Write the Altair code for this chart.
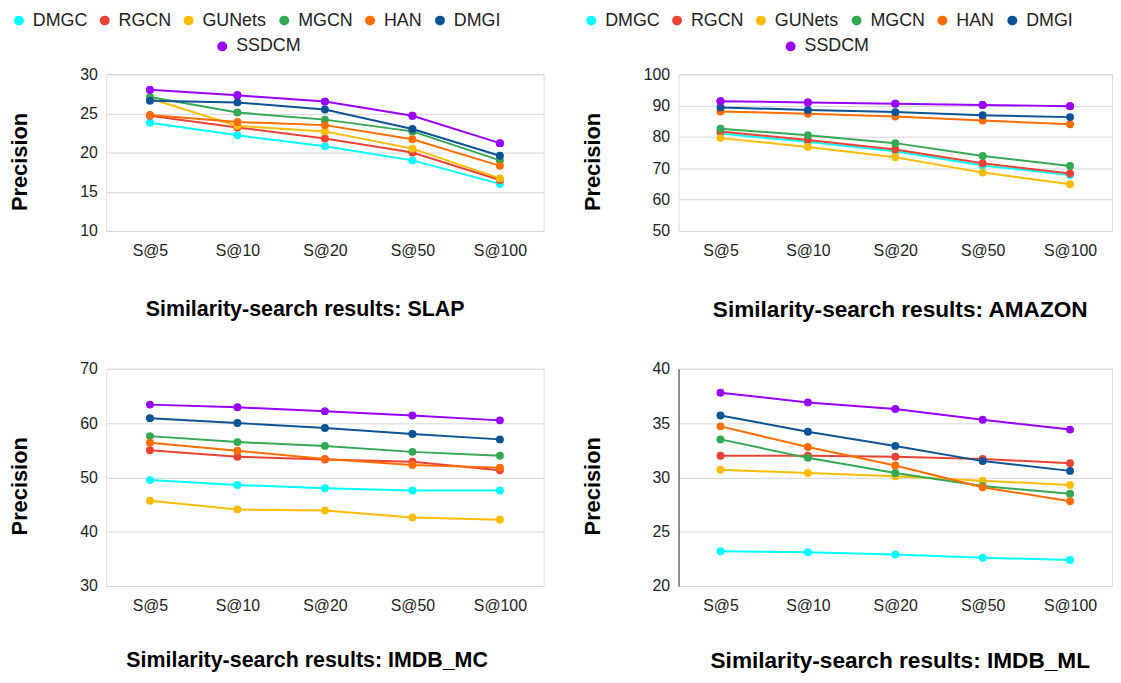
import altair as alt
import pandas as pd

series = ["DMGC", "RGCN", "GUNets", "MGCN", "HAN", "DMGI", "SSDCM"]
colors = ["#00ffff", "#ea4335", "#fbbc04", "#34a853", "#ff6d01", "#0b5394", "#9900ff"]
ks = ["S@5", "S@10", "S@20", "S@50", "S@100"]

slap = {
    "DMGC": [23.8, 22.2, 20.8, 19.0, 16.0],
    "RGCN": [24.7, 23.2, 21.8, 20.0, 16.5],
    "GUNets": [26.9, 23.4, 22.7, 20.5, 16.7],
    "MGCN": [27.1, 25.1, 24.2, 22.7, 19.0],
    "HAN": [24.8, 23.9, 23.5, 21.7, 18.3],
    "DMGI": [26.6, 26.4, 25.5, 23.0, 19.6],
    "SSDCM": [28.0, 27.3, 26.5, 24.7, 21.2],
}
amazon = {
    "DMGC": [81.1, 78.4, 75.4, 70.9, 67.8],
    "RGCN": [81.7, 79.0, 76.0, 71.6, 68.3],
    "GUNets": [79.6, 76.8, 73.5, 68.6, 64.9],
    "MGCN": [82.6, 80.5, 78.0, 73.9, 70.7],
    "HAN": [88.1, 87.4, 86.5, 85.2, 84.0],
    "DMGI": [89.4, 88.6, 87.9, 86.9, 86.3],
    "SSDCM": [91.4, 91.0, 90.6, 90.2, 89.8],
}
imdb_mc = {
    "DMGC": [49.5, 48.6, 48.0, 47.6, 47.6],
    "RGCN": [55.0, 53.8, 53.3, 52.9, 51.3],
    "GUNets": [45.7, 44.1, 43.9, 42.6, 42.2],
    "MGCN": [57.6, 56.5, 55.8, 54.7, 54.0],
    "HAN": [56.4, 54.9, 53.4, 52.3, 51.8],
    "DMGI": [60.9, 60.0, 59.1, 58.0, 57.0],
    "SSDCM": [63.4, 62.9, 62.2, 61.4, 60.5],
}
imdb_ml = {
    "DMGC": [23.2, 23.1, 22.9, 22.6, 22.4],
    "RGCN": [32.0, 32.0, 31.9, 31.7, 31.3],
    "GUNets": [30.7, 30.4, 30.1, 29.7, 29.3],
    "MGCN": [33.5, 31.8, 30.4, 29.2, 28.5],
    "HAN": [34.7, 32.8, 31.1, 29.1, 27.8],
    "DMGI": [35.7, 34.2, 32.9, 31.5, 30.6],
    "SSDCM": [37.8, 36.9, 36.3, 35.3, 34.4],
}

FONT = "Liberation Sans"


def to_df(d):
    rows = []
    for s in series:
        for i, (k, v) in enumerate(zip(ks, d[s])):
            rows.append({"series": s, "k": k, "k_idx": i, "value": v})
    return pd.DataFrame(rows)


def panel(d, name, ydom, yticks, width, height, pad, top, ytitle_y, xtitle_x, xtitle_y,
          domain=False, leg_x1=-97, leg_x2=108, title_size=21.6):
    df = to_df(d)
    xenc = alt.X(
        "k:N",
        sort=ks,
        scale=alt.Scale(type="point", padding=pad),
        axis=alt.Axis(
            title=f"Similarity-search results: {name}",
            titleFont=FONT, titleFontSize=title_size, titleFontWeight="bold", titleColor="#000000",
            titleX=xtitle_x, titleY=xtitle_y, titleBaseline="middle", titleAlign="center",
            labelFont=FONT, labelFontSize=16, labelColor="#222222", labelAngle=0,
            labelPadding=12, ticks=False, domain=False, grid=False,
        ),
    )
    yenc = alt.Y(
        "value:Q",
        scale=alt.Scale(domain=ydom, nice=False, zero=False),
        axis=alt.Axis(
            values=yticks,
            title="Precision",
            titleFont=FONT, titleFontSize=22, titleFontWeight="bold", titleColor="#000000",
            titleX=-87, titleY=ytitle_y, titleBaseline="middle", titleAlign="center", titleAngle=270,
            labelFont=FONT, labelFontSize=16, labelColor="#222222", labelPadding=9,
            ticks=False, domain=domain, domainColor="#333333", domainWidth=1,
            grid=True, gridColor="#d6d6d6", gridWidth=1,
        ),
    )
    # line colours: same mapping, domain listed in reverse so it is not merged with the point legend
    lines = alt.Chart(df).mark_line(strokeWidth=2).encode(
        x=xenc, y=yenc,
        stroke=alt.Stroke("series:N", scale=alt.Scale(domain=series[::-1], range=colors[::-1]), legend=None),
        order=alt.Order("k_idx:Q"),
    )
    if top:
        leg1 = alt.Legend(
            values=series[:6], title=None, orient="none", legendX=leg_x1, legendY=-63,
            direction="horizontal", labelFont=FONT, labelFontSize=18, labelColor="#222222",
            symbolType="circle", symbolSize=100, labelOffset=5, columnPadding=8.5, padding=0,
        )
    else:
        leg1 = None
    points = alt.Chart(df).mark_circle(size=64, opacity=1).encode(
        x=xenc, y=yenc,
        color=alt.Color("series:N", scale=alt.Scale(domain=series, range=colors), legend=leg1),
    )
    layers = [lines, points]
    if top:
        leg2 = alt.Legend(
            values=[series[6]], title=None, orient="none", legendX=leg_x2, legendY=-37,
            direction="horizontal", labelFont=FONT, labelFontSize=18, labelColor="#222222",
            symbolType="circle", symbolSize=100, labelOffset=5, padding=0,
        )
        extra = alt.Chart(df[df["series"] == series[6]]).mark_circle(size=64, opacity=1).encode(
            x=xenc, y=yenc,
            fill=alt.Fill("series:N", scale=alt.Scale(domain=[series[6]], range=[colors[6]]), legend=leg2),
        )
        layers.append(extra)
    return alt.layer(*layers).properties(width=width, height=height)


p1 = panel(slap, "SLAP", [10, 30], [10, 15, 20, 25, 30], 441, 158, 0.5, True, 88, 200, 79,
           leg_x1=-97, leg_x2=108)
p2 = panel(amazon, "AMAZON", [50, 100], [50, 60, 70, 80, 90, 100], 437, 158, 0.48, True, 88, 223, 79,
           leg_x1=-97, leg_x2=104, title_size=22.8)
p3 = panel(imdb_mc, "IMDB_MC", [30, 70], [30, 40, 50, 60, 70], 441, 219, 0.5, False, 118, 202, 75)
p4 = panel(imdb_ml, "IMDB_ML", [20, 40], [20, 25, 30, 35, 40], 437, 219, 0.48, False, 118, 223, 75,
           domain=True, title_size=22.8)

chart = alt.concat(
    p1, p2, p3, p4, columns=2, bounds="flush", align="each",
    spacing={"row": 139, "column": 136},
).resolve_scale(
    color="independent", fill="independent", stroke="independent"
).resolve_legend(
    color="independent", fill="independent", stroke="independent"
).properties(
    padding=0
).configure_view(
    stroke=None
).configure(
    background="white"
)

chart.save("out.html", embed_options={"renderer": "svg", "actions": False})
